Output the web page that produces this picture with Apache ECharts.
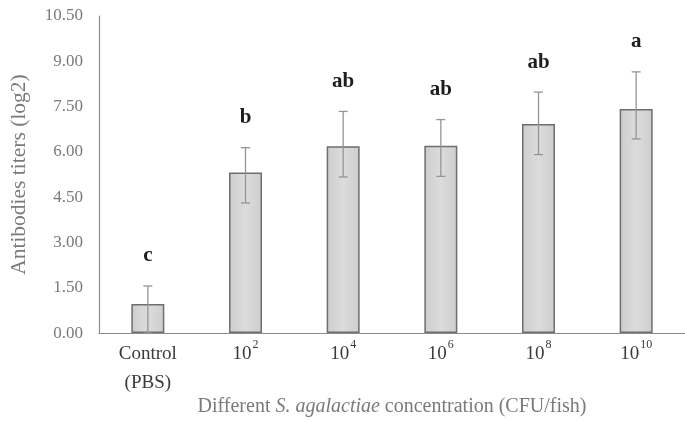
<!DOCTYPE html>
<html><head><meta charset="utf-8">
<script src="https://cdn.jsdelivr.net/npm/echarts@6/dist/echarts.min.js"></script>
<style>html,body{margin:0;padding:0;background:#fff}#c{width:685px;height:422px}</style>
</head><body><div id="c"></div>
<script>
const categories = ['Control\n(PBS)', '10^2', '10^4', '10^6', '10^8', '10^10'];
const means = [0.96, 5.32, 6.19, 6.20, 6.92, 7.42];
const errPlus = [0.60, 0.82, 1.15, 0.87, 1.06, 1.23];
const errMinus = [0.96, 1.01, 1.02, 1.01, 1.01, 0.99];
const letters = ['c', 'b', 'ab', 'ab', 'ab', 'a'];
const yTicks = [0, 1.5, 3, 4.5, 6, 7.5, 9, 10.5];

const FONT = '"Liberation Serif", "DejaVu Serif", serif';
const chart = echarts.init(document.getElementById('c'), null, {renderer: 'canvas'});

function fmtCat(v) {
  const m = v.match(/^10\^(\d+)$/);
  if (m) return '{b|10}{s|' + m[1] + '}';
  return v.split('\n').map(s => '{b|' + s + '}').join('\n');
}

chart.setOption({
  animation: false,
  grid: {left: 85, right: 0, top: 16, bottom: 75, containLabel: false},
  xAxis: {
    type: 'category',
    data: categories,
    axisLine: {lineStyle: {color: '#8c8c8c', width: 1.2}},
    axisTick: {show: false},
    axisLabel: {
      margin: 6,
      formatter: fmtCat,
      rich: {
        b: {fontFamily: FONT, fontSize: 19, color: '#3a3a3a', lineHeight: 29},
        s: {fontFamily: FONT, fontSize: 12, color: '#3a3a3a', lineHeight: 29, verticalAlign: 'top', padding: [0, 0, 8, 1]}
      }
    },
    name: '{n|Different }{i|S. agalactiae}{n| concentration (CFU/fish)}',
    nameLocation: 'middle',
    nameGap: 62,
    nameTextStyle: {
      rich: {
        n: {fontFamily: FONT, fontSize: 20, color: '#7a7a7a'},
        i: {fontFamily: FONT, fontSize: 20, color: '#7a7a7a', fontStyle: 'italic'}
      }
    }
  },
  yAxis: {
    type: 'value',
    min: 0, max: 10.5, interval: 1.5,
    splitLine: {show: false},
    axisLine: {show: true, lineStyle: {color: '#8c8c8c', width: 1.2}},
    axisTick: {show: false},
    axisLabel: {
      margin: 16,
      fontFamily: FONT, fontSize: 17, color: '#7a7a7a',
      formatter: v => yTicks.indexOf(v) >= 0 ? v.toFixed(2) : ''
    },
    name: 'Antibodies titers (log2)',
    nameLocation: 'middle',
    nameGap: 69,
    nameTextStyle: {fontFamily: FONT, fontSize: 21.5, color: '#7a7a7a'}
  },
  series: [
    {
      type: 'bar',
      data: means,
      barWidth: 33,
      itemStyle: {
        color: new echarts.graphic.LinearGradient(0, 0, 1, 0, [
          {offset: 0, color: '#cdcdcd'},
          {offset: 0.5, color: '#dcdcdc'},
          {offset: 1, color: '#cdcdcd'}
        ]),
        borderColor: '#6e6e6e',
        borderWidth: 1.5
      }
    },
    {
      type: 'custom',
      data: means.map((m, i) => [i, m - errMinus[i], m + errPlus[i]]),
      z: 5,
      renderItem: function (params, api) {
        const x = api.coord([api.value(0), 0])[0];
        const lo = api.coord([api.value(0), api.value(1)])[1];
        const hi = api.coord([api.value(0), api.value(2)])[1];
        const st = {stroke: '#959595', lineWidth: 1.3};
        return {
          type: 'group',
          children: [
            {type: 'line', shape: {x1: x, y1: lo, x2: x, y2: hi}, style: st},
            {type: 'line', shape: {x1: x - 4.5, y1: hi, x2: x + 4.5, y2: hi}, style: st},
            {type: 'line', shape: {x1: x - 4.5, y1: lo, x2: x + 4.5, y2: lo}, style: st},
            {type: 'text', x: x, y: hi - 30, style: {
              text: letters[params.dataIndex], font: 'bold 21px "Liberation Serif"',
              fill: '#1e1e1e', align: 'center', verticalAlign: 'middle'}}
          ]
        };
      }
    }
  ]
});
</script></body></html>
